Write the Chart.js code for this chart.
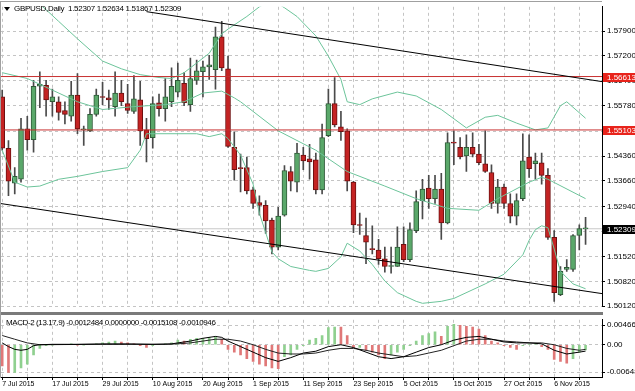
<!DOCTYPE html>
<html><head><meta charset="utf-8">
<script src="https://cdn.jsdelivr.net/npm/chart.js@4.4.0/dist/chart.umd.min.js"></script>
<style>
html,body{margin:0;padding:0;background:#fff;}
#wrap{position:relative;width:635px;height:391px;overflow:hidden;background:#fff;}
#c1{position:absolute;left:0;top:0;}
#c2{position:absolute;left:0;top:313px;}
#sep{position:absolute;left:0;top:312px;width:603px;height:3px;background:#7a7a7a;}
#lborder{position:absolute;left:0;top:1px;width:1px;height:377px;background:#a0a0a0;}
#tborder{position:absolute;left:0;top:1px;width:602px;height:1px;background:#a0a0a0;}
.lbl{position:absolute;font-family:"Liberation Sans",Arial,sans-serif;font-size:8px;color:#000;white-space:pre;line-height:10px;letter-spacing:-0.3px;}
#tri{position:absolute;left:4px;top:7px;width:0;height:0;border-left:3px solid transparent;border-right:3px solid transparent;border-top:4px solid #000;}
</style></head>
<body><div id="wrap">
<canvas id="c1" width="635" height="313"></canvas>
<div id="sep"></div>
<canvas id="c2" width="635" height="78"></canvas>
<div id="lborder"></div><div id="tborder"></div>
<div id="tri"></div>
<div class="lbl" style="left:14px;top:4px;">GBPUSD,Daily  1.52307 1.52634 1.51867 1.52309</div>
<div class="lbl" style="left:6px;top:318px;letter-spacing:-0.4px;">MACD-2 (13.17.9) -0.0012484 0.0000000 -0.0015108 -0.0010946</div>
</div>
<script>
const dates = ['7 Jul 2015','8 Jul 2015','9 Jul 2015','10 Jul 2015','13 Jul 2015','14 Jul 2015','15 Jul 2015','16 Jul 2015','17 Jul 2015','20 Jul 2015','21 Jul 2015','22 Jul 2015','23 Jul 2015','24 Jul 2015','27 Jul 2015','28 Jul 2015','29 Jul 2015','30 Jul 2015','31 Jul 2015',
'3 Aug 2015','4 Aug 2015','5 Aug 2015','6 Aug 2015','7 Aug 2015','10 Aug 2015','11 Aug 2015','12 Aug 2015','13 Aug 2015','14 Aug 2015','17 Aug 2015','18 Aug 2015','19 Aug 2015','20 Aug 2015','21 Aug 2015','24 Aug 2015','25 Aug 2015','26 Aug 2015','27 Aug 2015','28 Aug 2015','31 Aug 2015',
'1 Sep 2015','2 Sep 2015','3 Sep 2015','4 Sep 2015','7 Sep 2015','8 Sep 2015','9 Sep 2015','10 Sep 2015','11 Sep 2015','14 Sep 2015','15 Sep 2015','16 Sep 2015','17 Sep 2015','18 Sep 2015','21 Sep 2015','22 Sep 2015','23 Sep 2015','24 Sep 2015','25 Sep 2015','28 Sep 2015','29 Sep 2015','30 Sep 2015',
'1 Oct 2015','2 Oct 2015','5 Oct 2015','6 Oct 2015','7 Oct 2015','8 Oct 2015','9 Oct 2015','12 Oct 2015','13 Oct 2015','14 Oct 2015','15 Oct 2015','16 Oct 2015','19 Oct 2015','20 Oct 2015','21 Oct 2015','22 Oct 2015','23 Oct 2015','26 Oct 2015','27 Oct 2015','28 Oct 2015','29 Oct 2015','30 Oct 2015',
'2 Nov 2015','3 Nov 2015','4 Nov 2015','5 Nov 2015','6 Nov 2015','9 Nov 2015','10 Nov 2015','11 Nov 2015','12 Nov 2015','13 Nov 2015'];

const open = [1.56037,1.54585,1.53598,1.53708,1.55133,1.54831,1.56338,1.56366,1.55900,1.55900,
1.55653,1.55489,1.56092,1.55105,1.55078,1.55544,1.56037,1.56010,1.55763,1.56147,
1.55845,1.55626,1.55955,1.55105,1.54886,1.55873,1.55708,1.55900,1.56174,1.56421,
1.55818,1.56503,1.56749,1.56886,1.56804,1.57736,1.56832,1.54612,1.54037,1.54037,
1.53407,1.53050,1.52968,1.52557,1.51790,1.52694,1.53927,1.53626,1.54393,1.54283,
1.54256,1.53407,1.54941,1.55845,1.55188,1.55078,1.53626,1.52420,1.52119,1.51735,
1.51708,1.51461,1.51242,1.51242,1.51872,1.51434,1.52256,1.53105,1.53461,1.53160,
1.53434,1.52475,1.54749,1.54612,1.54366,1.54612,1.54420,1.54146,1.53900,1.53023,
1.53489,1.53023,1.52667,1.53160,1.54338,1.54146,1.54174,1.53818,1.52064,1.50447,
1.51160,1.51160,1.52119,1.52307];
const high = [1.56229,1.54804,1.54037,1.55434,1.55489,1.56503,1.56749,1.56503,1.56256,1.56037,
1.55900,1.56475,1.56695,1.55215,1.55708,1.56256,1.56448,1.56229,1.56749,1.56503,
1.56393,1.56640,1.56475,1.55434,1.56037,1.56119,1.56558,1.56859,1.56996,1.56722,
1.57133,1.57078,1.57051,1.57215,1.58010,1.58174,1.57188,1.55051,1.54420,1.54338,
1.53489,1.53242,1.53105,1.52612,1.52913,1.54092,1.54064,1.54722,1.54612,1.54694,
1.54448,1.55270,1.56256,1.56585,1.55626,1.55133,1.53653,1.52749,1.52612,1.52393,
1.52009,1.51790,1.51790,1.52365,1.52365,1.52475,1.53379,1.53708,1.53818,1.53818,
1.53873,1.55023,1.55078,1.54886,1.54968,1.55023,1.54694,1.55078,1.54119,1.53708,
1.53571,1.53297,1.53297,1.54996,1.54968,1.54448,1.54448,1.54009,1.52256,1.51242,
1.51434,1.52146,1.52420,1.52634];
const low = [1.54530,1.53242,1.53297,1.53626,1.54530,1.54475,1.55736,1.55489,1.55489,1.55379,
1.55270,1.55352,1.54996,1.54667,1.55051,1.55489,1.55818,1.55681,1.55489,1.55790,
1.55571,1.55571,1.54667,1.54201,1.54585,1.55489,1.55352,1.55763,1.56037,1.55790,
1.55626,1.56393,1.56037,1.56530,1.56256,1.56777,1.54612,1.53681,1.53352,1.53297,
1.52886,1.52694,1.52174,1.51598,1.51708,1.52667,1.53379,1.53352,1.53982,1.53708,
1.53297,1.53297,1.54914,1.55188,1.54804,1.53379,1.52201,1.52146,1.51324,1.51598,
1.51297,1.51078,1.51050,1.51242,1.51379,1.51379,1.52201,1.52585,1.52886,1.53023,
1.52009,1.52448,1.54119,1.54283,1.53927,1.54338,1.54119,1.53900,1.52886,1.52749,
1.52886,1.52475,1.52420,1.53105,1.53763,1.53708,1.53571,1.52009,1.50256,1.50420,
1.51105,1.51105,1.51708,1.51867];
const close = [1.54585,1.53653,1.53790,1.55133,1.54831,1.56338,1.56393,1.55955,1.56037,1.55599,
1.55544,1.56092,1.55133,1.55120,1.55544,1.56092,1.56020,1.55955,1.56147,1.55900,
1.55653,1.55982,1.55078,1.54859,1.55845,1.55708,1.56037,1.56338,1.56503,1.55873,
1.56558,1.56777,1.56886,1.56941,1.57736,1.56859,1.54640,1.53982,1.54010,1.53379,
1.53023,1.52968,1.52530,1.51790,1.52667,1.53955,1.53653,1.54448,1.54229,1.54201,
1.53407,1.54886,1.55845,1.55242,1.55051,1.53653,1.52420,1.52400,1.51927,1.51720,
1.51461,1.51242,1.51260,1.51790,1.51434,1.52283,1.53078,1.53434,1.53160,1.53434,
1.52475,1.54749,1.54730,1.54338,1.54612,1.54420,1.54174,1.53927,1.53023,1.53489,
1.53023,1.52667,1.53105,1.54229,1.54009,1.54229,1.53818,1.52064,1.50502,1.51105,
1.51215,1.52119,1.52311,1.52309];

// Bollinger bands, read as [bar index, price]
const bbUpper = [[5,1.5880],[7,1.58503],[9,1.58174],[12,1.57681],[16,1.57051],[19,1.56832],[22,1.56667],[25,1.56585],[27,1.56558],[29,1.56722],[31,1.56996],[33,1.57270],[35,1.57818],[36,1.57955],[39,1.58311],[41,1.58585],[43,1.58777],[45,1.58558],[47,1.58311],[50,1.57763],[52,1.57188],[54,1.56530],[55,1.55900],[57,1.55818],[59,1.55982],[63,1.56174],[66,1.56064],[70,1.55681],[74,1.55160],[77,1.55462],[79,1.55516],[82,1.55297],[85,1.55105],[87,1.55160],[89,1.55790],[90,1.55900],[93,1.55434]];
const bbMiddle = [[0,1.56722],[4,1.56558],[8,1.56229],[12,1.55900],[16,1.55681],[21,1.55763],[26,1.55818],[29,1.55900],[32,1.56147],[35,1.56201],[37,1.56010],[38,1.55900],[44,1.55078],[50,1.54530],[55,1.53927],[61,1.53516],[66,1.53160],[71,1.52886],[76,1.52831],[79,1.53160],[84,1.53626],[86,1.53763],[87,1.53708],[93,1.53160]];
const bbLower = [[0,1.54530],[2,1.53626],[4,1.53489],[6,1.53516],[9,1.53708],[12,1.53790],[16,1.53927],[20,1.54037],[22,1.54530],[23,1.54996],[25,1.54996],[31,1.54996],[33,1.54914],[35,1.54996],[36,1.54859],[38,1.54393],[40,1.53571],[41,1.52749],[42,1.52201],[43,1.51653],[44,1.51461],[46,1.51242],[49,1.51132],[50,1.51105],[52,1.51187],[54,1.51516],[55,1.51900],[57,1.51680],[59,1.51297],[61,1.50831],[63,1.50502],[66,1.50256],[67,1.50201],[70,1.50256],[72,1.50338],[77,1.50749],[80,1.51023],[83,1.51571],[84,1.51982],[85,1.52283],[86,1.52393],[87,1.52338],[88,1.51735],[89,1.51105],[91,1.50749],[93,1.50612]];

// trend channel, [bar index, price]
const channelUpper = [[23,1.58448],[96,1.56459]];
const channelLower = [[-1,1.53042],[96,1.50465]];
const levels = [1.56613, 1.55103];
const lastPrice = 1.52309;

const priceTicks = [1.50120,1.50820,1.51520,1.52230,1.52940,1.53660,1.54360,1.55070,1.55780,1.56490,1.57200,1.57900];

const macdHist = [-0.00503,-0.00656,-0.00656,-0.00547,-0.00459,-0.00241,-0.00087,-0.00022,-0.0001,0.0001,
0.0001,0.0002,-0.0001,-0.0001,0.0001,0.0002,0.00044,0.00066,0.00087,0.00066,
0.00044,0.00022,-0.00022,-0.00066,-0.00022,0,0.00022,0.00044,0.00109,0.00087,
0.00131,0.00153,0.00153,0.00175,0.00197,0.00131,-0.00109,-0.00175,-0.00241,-0.00328,
-0.00394,-0.00459,-0.00503,-0.00547,-0.00569,-0.00284,-0.00241,-0.00109,-0.00022,0.00109,
0.00153,0.00219,0.00405,0.00420,0.00416,0.00219,-0.00066,-0.00066,-0.00131,-0.00175,
-0.00241,-0.00328,-0.00241,-0.00175,-0.00109,-0.00022,0.00087,0.00219,0.00262,0.00306,
0.00197,0.00437,0.00481,0.00459,0.00437,0.00416,0.00372,0.00219,0.00087,0.00044,
-0.00022,-0.00066,-0.00109,-0.00022,0.0001,0.00022,-0.00044,-0.00109,-0.0035,-0.00394,
-0.00437,-0.00328,-0.00175,-0.0012484];
const macdLine = [[0,0.00044],[1,-0.00044],[2,-0.00109],[3,-0.00131],[4,-0.00109],[5,-0.00022],[6,0],[8,0.0001],[12,0.0001],[16,0.0002],[20,0.0002],[24,0.0001],[27,0.0002],[28,0.00044],[30,0.00087],[32,0.00153],[34,0.00197],[35,0.00175],[36,0.00087],[38,-0.00044],[40,-0.00175],[42,-0.00306],[44,-0.00394],[46,-0.00306],[48,-0.00197],[50,-0.00153],[52,-0.00044],[54,0],[56,-0.00066],[58,-0.00175],[60,-0.00284],[62,-0.00328],[64,-0.00284],[66,-0.00175],[68,-0.00066],[70,0],[72,0.00109],[74,0.00175],[76,0.00197],[78,0.00131],[80,0.00066],[82,0.00044],[84,0.00044],[86,0.00022],[88,-0.00131],[90,-0.00219],[92,-0.00175],[93,-0.0015108]];
const macdSignal = [[0,0.00219],[2,0.00131],[4,0.00044],[6,0],[10,0.00005],[16,0.0001],[22,0.0001],[26,0.0001],[28,0.00022],[30,0.00044],[32,0.00087],[34,0.00131],[36,0.00131],[38,0.00087],[40,0],[42,-0.00109],[44,-0.00197],[46,-0.00219],[48,-0.00219],[50,-0.00197],[52,-0.00131],[54,-0.00087],[56,-0.00087],[58,-0.00131],[60,-0.00197],[62,-0.00241],[64,-0.00284],[66,-0.00262],[68,-0.00197],[70,-0.00131],[72,-0.00022],[74,0.00087],[76,0.00131],[78,0.00131],[80,0.00087],[82,0.00066],[84,0.00044],[86,0.00044],[88,0],[90,-0.00087],[92,-0.00131],[93,-0.0010946]];
const macdTicks = [-0.006485, 0, 0.004667];

// ---------- styles ----------
const FONT = {family:'"Liberation Sans", Arial, sans-serif', size:8};
const XFONT = {family:'"Liberation Sans", Arial, sans-serif', size:7};
const X_MIN = -0.19, X_MAX = 95.62;
const BULL = '#5aa86a', BULL_EDGE = '#2f5a38', BEAR = '#c42323', BEAR_EDGE = '#6e1010', WICK = '#4a4a4a';
const BAND = '#6cc49a';
const GRIDC = '#c4c4c4';

const idx = dates.map((d,i)=>i);
const pts = arr => arr.map(p=>({x:p[0], y:p[1]}));
const candleColor = i => close[i] > open[i] ? BULL : (close[i] < open[i] ? BEAR : '#808080');
const candleEdge = i => close[i] > open[i] ? BULL_EDGE : (close[i] < open[i] ? BEAR_EDGE : '#606060');

function xScale(showLabels){
  return {
    type:'linear', min:X_MIN, max:X_MAX, offset:false,
    afterBuildTicks(s){ const t=[]; for(let i=0;i<dates.length;i+=4) t.push({value:i}); s.ticks=t; },
    afterFit(s){ s.height = showLabels ? 14 : 0; },
    grid:{offset:false, color:GRIDC, lineWidth:1, drawTicks:showLabels, tickLength:3, tickColor:'#000'},
    border:{display:showLabels, color:'#000', dash:[3,3]},
    ticks:{display:showLabels, autoSkip:false, maxRotation:0, align:'start', padding:0, font:XFONT, color:'#000',
      callback:(v)=> (v%8===0 && dates[v]) ? dates[v] : ''}
  };
}

const boxPlugin = {
  id:'boxes',
  afterDraw(chart){
    const ctx = chart.ctx, ys = chart.scales.y, a = chart.chartArea;
    const items = [{v:levels[0],bg:'#e8231b'},{v:levels[1],bg:'#e8231b'},{v:lastPrice,bg:'#000'}];
    ctx.save();
    items.forEach(b=>{
      const y = Math.round(ys.getPixelForValue(b.v));
      ctx.fillStyle = b.bg; ctx.fillRect(a.right+1, y-4, 33, 9);
      ctx.fillStyle = '#fff'; ctx.font = '8px "Liberation Sans", Arial, sans-serif';
      ctx.textBaseline = 'middle'; ctx.textAlign = 'left';
      ctx.fillText(b.v.toFixed(5), a.right+5, y+0.5);
    });
    ctx.restore();
  }
};

const priceChart = new Chart(document.getElementById('c1'), {
  type:'bar',
  data:{datasets:[
    {type:'line', data:pts(channelUpper), borderColor:'#000', borderWidth:1, pointRadius:0, order:1},
    {type:'line', data:pts(channelLower), borderColor:'#000', borderWidth:1, pointRadius:0, order:1},
    {type:'line', data:[{x:-1,y:levels[0]},{x:97,y:levels[0]}], borderColor:'#c83030', borderWidth:1, pointRadius:0, order:2},
    {type:'line', data:[{x:-1,y:levels[1]},{x:97,y:levels[1]}], borderColor:'#c83030', borderWidth:1, pointRadius:0, order:2},
    {type:'line', data:[{x:-1,y:lastPrice},{x:97,y:lastPrice}], borderColor:'#c8c8c8', borderWidth:1, pointRadius:0, order:6},
    {type:'line', data:pts(bbUpper), borderColor:BAND, borderWidth:1, pointRadius:0, spanGaps:true, order:3},
    {type:'line', data:pts(bbMiddle), borderColor:BAND, borderWidth:1, pointRadius:0, spanGaps:true, order:3},
    {type:'line', data:pts(bbLower), borderColor:BAND, borderWidth:1, pointRadius:0, spanGaps:true, order:3},
    {type:'bar', data:idx.map(i=>({x:i, y:[low[i], high[i]]})), backgroundColor:WICK, borderWidth:0, barThickness:1, grouped:false, order:5},
    {type:'bar', data:idx.map(i=>({x:i, y:[open[i], close[i]]})), backgroundColor:idx.map(candleColor), borderColor:idx.map(candleEdge), borderWidth:1, borderSkipped:false, barThickness:5, minBarLength:1, grouped:false, order:4}
  ]},
  options:{
    responsive:false, animation:false, events:[],
    layout:{padding:{left:1, top:2, right:0, bottom:1}},
    plugins:{legend:{display:false}, tooltip:{enabled:false}},
    scales:{
      x: xScale(false),
      y:{type:'linear', position:'right', min:1.50119, max:1.58585, beginAtZero:false,
        afterBuildTicks(s){ s.ticks = priceTicks.map(v=>({value:v})); },
        afterFit(s){ s.width = 33; },
        grid:{color:GRIDC, drawTicks:true, tickLength:3, tickColor:'#000'},
        border:{display:true, color:'#000', dash:[3,3]},
        ticks:{font:FONT, color:'#000', padding:2, callback:v=>v.toFixed(5)}
      }
    }
  },
  plugins:[boxPlugin]
});

const macdChart = new Chart(document.getElementById('c2'), {
  type:'bar',
  data:{datasets:[
    {type:'line', data:pts(macdLine), borderColor:'#000', borderWidth:1, pointRadius:0, spanGaps:true, order:1},
    {type:'line', data:pts(macdSignal), borderColor:'#222', borderWidth:1, pointRadius:0, spanGaps:true, order:1},
    {type:'bar', data:idx.map(i=>({x:i, y:[0, macdHist[i]]})),
      backgroundColor:idx.map(i=> (i>0 && macdHist[i] >= macdHist[i-1]) ? '#8fd08f' : '#e07878'),
      borderWidth:0, barThickness:2, grouped:false, order:3}
  ]},
  options:{
    responsive:false, animation:false, events:[],
    layout:{padding:{left:1, top:2, right:0, bottom:0}},
    plugins:{legend:{display:false}, tooltip:{enabled:false}},
    scales:{
      x: xScale(true),
      y:{type:'linear', position:'right', min:-0.007644, max:0.005913, beginAtZero:false,
        afterBuildTicks(s){ s.ticks = macdTicks.map(v=>({value:v})); },
        afterFit(s){ s.width = 33; },
        grid:{color:GRIDC, drawTicks:true, tickLength:3, tickColor:'#000'},
        border:{display:true, color:'#000', dash:[3,3]},
        ticks:{font:FONT, color:'#000', padding:2, callback:v=> v===0 ? '0.00' : String(v)}
      }
    }
  }
});
</script></body></html>
